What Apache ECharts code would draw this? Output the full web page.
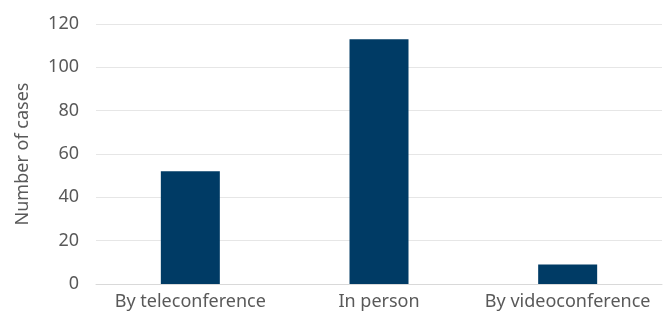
<!DOCTYPE html>
<html><head><meta charset="utf-8">
<script src="https://cdn.jsdelivr.net/npm/echarts@6/dist/echarts.min.js"></script>
<style>html,body{margin:0;padding:0;background:#fff}#c{width:664px;height:320px}</style>
</head><body><div id="c"></div>
<script>
const categories = ["By teleconference", "In person", "By videoconference"];
const cases = [52, 113, 9];
const yTicks = [0, 20, 40, 60, 80, 100, 120];

const chart = echarts.init(document.getElementById('c'), null, {renderer: 'canvas'});
chart.setOption({
  animation: false,
  textStyle: {fontFamily: 'Noto Sans'},
  grid: {left: 96, right: 2, top: 24, bottom: 36},
  xAxis: {
    type: 'category',
    data: categories,
    axisLine: {show: true, lineStyle: {color: '#d9d9d9', width: 1}},
    axisTick: {show: false},
    axisLabel: {color: '#595959', fontSize: 18, margin: 9, interval: 0, fontFamily: 'Noto Sans'}
  },
  yAxis: {
    type: 'value',
    min: yTicks[0], max: yTicks[yTicks.length - 1], interval: 20,
    name: 'Number of cases',
    nameLocation: 'middle',
    nameGap: 64,
    nameRotate: 90,
    nameTextStyle: {color: '#595959', fontSize: 18, fontFamily: 'Noto Sans'},
    axisLine: {show: false},
    axisTick: {show: false},
    axisLabel: {color: '#595959', fontSize: 18, margin: 17, fontFamily: 'Noto Sans'},
    splitLine: {lineStyle: {color: '#e6e6e6', width: 1}}
  },
  series: [{
    type: 'bar',
    data: cases,
    barWidth: 59,
    itemStyle: {color: '#003b65'}
  }]
});
</script></body></html>
